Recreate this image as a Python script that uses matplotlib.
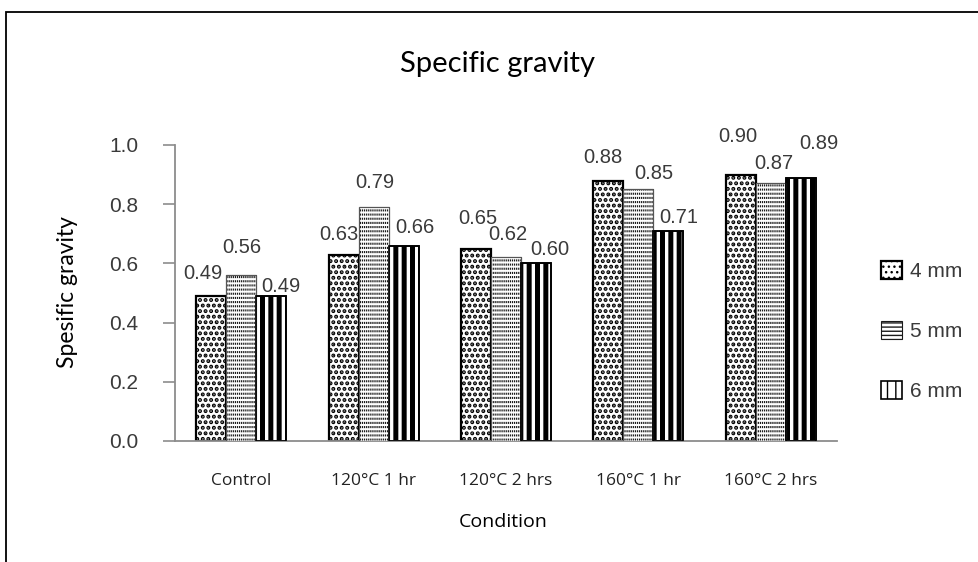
import matplotlib
matplotlib.use("Agg")
import matplotlib.pyplot as plt
import numpy as np
from matplotlib.patches import Rectangle

# data
conditions = ["Control", "120°C 1 hr", "120°C 2 hrs", "160°C 1 hr", "160°C 2 hrs"]
series_names = ["4 mm", "5 mm", "6 mm"]
sg_4mm = [0.49, 0.63, 0.65, 0.88, 0.90]
sg_5mm = [0.56, 0.79, 0.62, 0.85, 0.87]
sg_6mm = [0.49, 0.66, 0.60, 0.71, 0.89]

# label nudges in pixels (dx, dy from bar top) - labels were hand placed in the source
label_offsets = [
    [(-8, 22), (-5, 20), (2, 30), (-6, 23), (-3, 38)],
    [(1, 28), (1, 25), (2, 23), (15, 16), (3, 20)],
    [(10, 9), (11, 18), (14, 14), (10, 13), (18, 34)],
]

W, H = 979, 562
fig = plt.figure(figsize=(W / 100, H / 100), dpi=100)
ax = fig.add_axes([175 / W, 121 / H, 662 / W, 296 / H])

num_font = "Liberation Sans"
txt_col = "#3a3a3a"

x = np.arange(len(conditions))
width = 0.2266
series = [sg_4mm, sg_5mm, sg_6mm]
offsets = [-width, 0.0, width]

# 4 mm: black dots
with plt.rc_context({"hatch.linewidth": 2.0}):
    b4 = ax.bar(x + offsets[0], sg_4mm, width, facecolor="white", edgecolor="black",
                hatch="...", linewidth=1.6, label=series_names[0], zorder=2)

# 5 mm: rows of short dashes (dark bands broken by thin white verticals)
with plt.rc_context({"hatch.linewidth": 1.5}):
    b5 = ax.bar(x + offsets[1], sg_5mm, width, facecolor="white", edgecolor="#1a1a1a",
                hatch="----", linewidth=0.8, label=series_names[1], zorder=2)
with plt.rc_context({"hatch.linewidth": 0.6}):
    ax.bar(x + offsets[1], sg_5mm, width, facecolor="none", edgecolor="white",
           hatch="||||||||", linewidth=0, zorder=3)
ax.bar(x + offsets[1], sg_5mm, width, facecolor="none", edgecolor="#555555",
       linewidth=0.8, zorder=4)

# 6 mm: heavy vertical stripes
with plt.rc_context({"hatch.linewidth": 3.6}):
    b6 = ax.bar(x + offsets[2], sg_6mm, width, facecolor="white", edgecolor="black",
                hatch="||", linewidth=1.2, label=series_names[2], zorder=2)
ax.bar(x + offsets[2], sg_6mm, width, facecolor="none", edgecolor="black",
       linewidth=1.2, zorder=4)

# data labels
for s, vals in enumerate(series):
    for i, v in enumerate(vals):
        dx, dy = label_offsets[s][i]
        ax.annotate(f"{v:.2f}", xy=(x[i] + offsets[s], v), xytext=(dx, dy),
                    textcoords="offset pixels", ha="center", va="center",
                    fontsize=14.5, family=num_font, color=txt_col, zorder=5)

ax.set_xlim(-0.5, len(conditions) - 0.5)
ax.set_ylim(0, 1.0)
ax.set_yticks(np.arange(0, 1.01, 0.2))
ax.set_yticklabels([f"{t:.1f}" for t in np.arange(0, 1.01, 0.2)],
                   family=num_font, fontsize=15, color=txt_col)
ax.set_xticks(x)
ax.set_xticklabels(conditions, family="Open Sans", fontsize=12.5, color="#222222")

for side in ["top", "right"]:
    ax.spines[side].set_visible(False)
for side in ["left", "bottom"]:
    ax.spines[side].set_color("#8c8c8c")
    ax.spines[side].set_linewidth(1.3)
ax.tick_params(axis="y", length=8.5, width=1.2, color="#8c8c8c", pad=18)
ax.tick_params(axis="x", length=0, pad=23)

fig.text(498 / W, 1 - 64 / H, "Specific gravity", ha="center", va="center",
         fontsize=21, family="Lato", color="black")
fig.text(68 / W, 1 - 292 / H, "Spesific gravity", ha="center", va="center",
         rotation=90, fontsize=16.5, family="Lato", color="black")
fig.text(503 / W, 1 - 522 / H, "Condition", ha="center", va="center",
         fontsize=14, family="Open Sans", color="black")

leg = ax.legend(handles=[b4, b5, b6], loc="center left", frameon=False,
                bbox_to_anchor=(881 / W, 1 - 331 / H), bbox_transform=fig.transFigure,
                prop={"family": num_font, "size": 15}, handlelength=1.0,
                handleheight=1.0, handletextpad=0.4, labelspacing=1.9,
                borderpad=0, borderaxespad=0)
for t in leg.get_texts():
    t.set_color(txt_col)

# outer chart border (right and bottom edges fall outside the image)
fig.patches.append(Rectangle((6 / W, -0.05), 1.1, (H - 12) / H + 0.05,
                             transform=fig.transFigure, fill=False,
                             edgecolor="black", linewidth=1.3))

fig.savefig("out.png", dpi=100)
